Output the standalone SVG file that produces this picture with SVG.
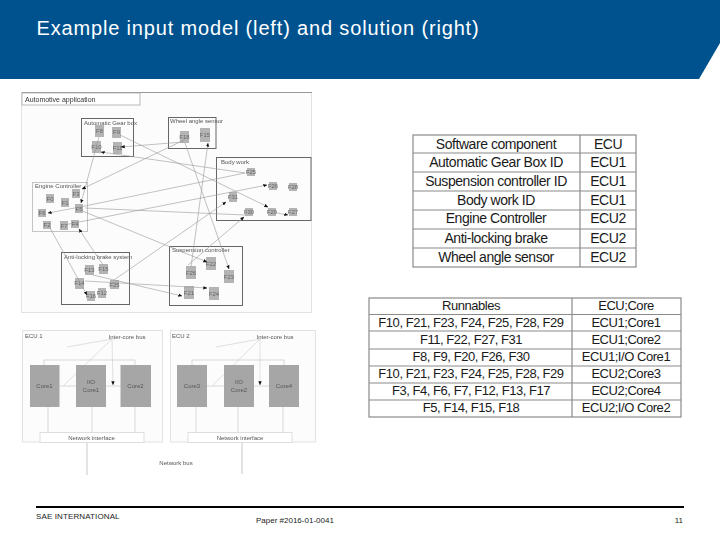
<svg xmlns="http://www.w3.org/2000/svg" width="720" height="540" viewBox="0 0 720 540">
<style>
text{font-family:"Liberation Sans",Arial,sans-serif}
.title{font-size:20px;fill:#fff;letter-spacing:.84px}
.foot{font-size:8px;fill:#222}
.panel{fill:#fcfcfc;stroke:#e2e2e2;stroke-width:1}
.grp{fill:none;stroke:#666;stroke-width:1}
.grp2{fill:none;stroke:#c4c4c4;stroke-width:1}
.glab{font-size:6px;fill:#555}
.box{fill:#b4b4b4}
.nl{font-size:6px;fill:#666;text-anchor:middle}
.c{fill:none;stroke:#999;stroke-width:.6;marker-end:url(#ah)}
.l{fill:none;stroke:#d8d8d8;stroke-width:1}
.core{fill:#a6a6a6}
.cl{font-size:6px;fill:#555;text-anchor:middle}
.net{fill:#fff;stroke:#dedede}
.t{fill:#fff;stroke:#8a8a8a;stroke-width:1.2}
.tl{stroke:#8a8a8a;stroke-width:1.2}
.a{font-size:14px;fill:#1a1a1a;text-anchor:middle;letter-spacing:-.45px}
.b{font-size:13px;fill:#1a1a1a;text-anchor:middle;letter-spacing:-.45px}
</style>
<defs>
<marker id="ah" viewBox="0 0 6 6" refX="5.500" refY="3" markerWidth="4" markerHeight="4" markerUnits="userSpaceOnUse" orient="auto"><path d="M0 .5L6 3L0 5.500z" fill="#111"/></marker>
<filter id="soft" x="0" y="0" width="1" height="1"><feGaussianBlur stdDeviation="0.3"/></filter>
</defs>
<path d="M0 0H720V43L699 79H0z" fill="#00528f"/>
<text class="title" x="36.500" y="35">Example input model (left) and solution (right)</text>

<g id="illustration" filter="url(#soft)">
<rect class="panel" x="21.500" y="92.500" width="290" height="220"/>
<path d="M22 92.500H312" stroke="#999" fill="none"/>
<g id="app-label"><rect x="22" y="93" width="118" height="12" fill="#fff" stroke="#aaa" stroke-width=".8"/><text x="25" y="101.500" font-size="7" fill="#333">Automotive application</text></g>

<g id="group-gearbox"><rect class="grp" x="81.500" y="118.500" width="52" height="38"/><text class="glab" x="84" y="125">Automatic Gear box</text></g>
<g id="group-wheel"><rect class="grp" x="168.500" y="117.500" width="47.500" height="31"/><text class="glab" x="170" y="123">Wheel angle sensor</text></g>
<g id="group-body"><rect class="grp" x="216.500" y="157.500" width="94.500" height="63"/><text class="glab" x="221" y="164">Body work</text></g>
<g id="group-engine"><rect class="grp2" x="32.500" y="182.500" width="55" height="49"/><text class="glab" x="35" y="187.500">Engine Controller</text></g>
<g id="group-abs"><rect class="grp" x="61.500" y="252.500" width="68" height="52"/><text class="glab" x="64" y="259">Anti-locking brake system</text></g>
<g id="group-susp"><rect class="grp" x="169.500" y="246.500" width="73" height="59"/><text class="glab" x="172" y="252">Suspension controller</text></g>

<g id="F8"><rect class="box" x="95" y="125" width="9" height="12"/><text class="nl" x="99.500" y="133">F8</text></g>
<g id="F9"><rect class="box" x="112" y="127" width="9" height="11"/><text class="nl" x="116.500" y="134">F9</text></g>
<g id="F10"><rect class="box" x="92" y="141" width="9" height="12"/><text class="nl" x="96.500" y="149">F10</text></g>
<g id="F11"><rect class="box" x="113" y="142" width="9" height="12"/><text class="nl" x="117.500" y="150">F11</text></g>
<g id="F18"><rect class="box" x="180" y="131" width="9" height="12"/><text class="nl" x="184.500" y="139">F18</text></g>
<g id="F15"><rect class="box" x="200" y="128" width="10" height="14"/><text class="nl" x="205" y="137">F15</text></g>
<g id="F25"><rect class="box" x="247" y="168" width="8" height="8"/><text class="nl" x="251" y="174">F25</text></g>
<g id="F26"><rect class="box" x="269" y="182" width="8" height="8"/><text class="nl" x="273" y="188">F26</text></g>
<g id="F28"><rect class="box" x="289" y="183" width="8" height="8"/><text class="nl" x="293" y="189">F28</text></g>
<g id="F31"><rect class="box" x="229" y="192" width="8" height="10"/><text class="nl" x="233" y="199">F31</text></g>
<g id="F30"><rect class="box" x="245" y="208" width="8" height="8"/><text class="nl" x="249" y="214">F30</text></g>
<g id="F29"><rect class="box" x="268" y="208" width="8" height="8"/><text class="nl" x="272" y="214">F29</text></g>
<g id="F27"><rect class="box" x="289" y="208" width="8" height="8"/><text class="nl" x="293" y="214">F27</text></g>
<g id="F0"><rect class="box" x="46" y="194" width="8" height="9"/><text class="nl" x="50" y="200.500">F0</text></g>
<g id="F1"><rect class="box" x="61" y="198" width="8" height="9"/><text class="nl" x="65" y="204.500">F1</text></g>
<g id="F3"><rect class="box" x="72" y="189" width="8" height="9"/><text class="nl" x="76" y="195.500">F3</text></g>
<g id="F5"><rect class="box" x="75" y="204" width="8" height="9"/><text class="nl" x="79" y="210.500">F5</text></g>
<g id="F6"><rect class="box" x="38" y="209" width="8" height="8"/><text class="nl" x="42" y="215">F6</text></g>
<g id="F2"><rect class="box" x="43" y="221" width="8" height="8"/><text class="nl" x="47" y="227">F2</text></g>
<g id="F7"><rect class="box" x="60" y="221" width="8" height="9"/><text class="nl" x="64" y="227.500">F7</text></g>
<g id="F4"><rect class="box" x="71" y="220" width="8" height="8"/><text class="nl" x="75" y="226">F4</text></g>
<g id="F13"><rect class="box" x="85" y="265" width="9" height="10"/><text class="nl" x="89.500" y="272">F13</text></g>
<g id="F17"><rect class="box" x="99" y="264" width="9" height="10"/><text class="nl" x="103.500" y="271">F15</text></g>
<g id="F14"><rect class="box" x="75" y="278" width="9" height="11"/><text class="nl" x="79.500" y="285">F14</text></g>
<g id="F25b"><rect class="box" x="110" y="280" width="9" height="9"/><text class="nl" x="114.500" y="286.500">F25</text></g>
<g id="F16"><rect class="box" x="87" y="291" width="8" height="10"/><text class="nl" x="91" y="298">F16</text></g>
<g id="F12"><rect class="box" x="98" y="288" width="8" height="10"/><text class="nl" x="102" y="295">F12</text></g>
<g id="F22"><rect class="box" x="206" y="257" width="10" height="13"/><text class="nl" x="211" y="265.500">F22</text></g>
<g id="F20"><rect class="box" x="186" y="266" width="10" height="13"/><text class="nl" x="191" y="274.500">F26</text></g>
<g id="F23"><rect class="box" x="224" y="270" width="10" height="13"/><text class="nl" x="229" y="278.500">F23</text></g>
<g id="F21"><rect class="box" x="184" y="286" width="10" height="13"/><text class="nl" x="189" y="294.500">F21</text></g>
<g id="F24"><rect class="box" x="209" y="287" width="10" height="13"/><text class="nl" x="214" y="295.500">F24</text></g>

<g id="connectors">
<path class="c" d="M99 137L81 203"/>
<path class="c" d="M120 135L268 207"/>
<path class="c" d="M183 142L121 147"/>
<path class="c" d="M245 173L101 152"/>
<path class="c" d="M184 140L82 189"/>
<path class="c" d="M64 225L267 185"/>
<path class="c" d="M80 207L245 173" style="marker-end:none"/>
<path class="c" d="M114 280L226 202"/>
<path class="c" d="M80 210L207 262"/>
<path class="c" d="M80 207L48 213"/>
<path class="c" d="M50 228L87 295"/>
<path class="c" d="M103 265L79 229"/>
<path class="c" d="M85 281L207 288"/>
<path class="c" d="M93 275L182 296"/>
<path class="c" d="M191 267L208 143"/>
<path class="c" d="M185 143L229 269"/>
<path class="c" d="M188 265L244 217"/>
<path class="c" d="M277 213L288 215"/>
<path class="c" d="M85 208L245 215" style="marker-end:none"/>
</g>

<rect class="panel" x="22.500" y="330.500" width="140" height="111.500"/>
<rect class="panel" x="170.500" y="330.500" width="145" height="111.500"/>
<text class="glab" x="25" y="337.500">ECU 1</text>
<text class="glab" x="172" y="337.500">ECU 2</text>

<g id="hw-lines">
<path class="l" d="M44 365V360H135V365M30 386H151M48 407V432M92 407V432M135 407V432"/>
<path class="l" d="M192 365V360H284V365M177 386H299M196 407V432M238 407V432M283 407V432"/>
<path d="M87 442V475M242 442V474" fill="none" stroke="#bbb" stroke-width=".8"/>
<path d="M112 339L67 347M112 339L64 385M112 339L113 385" class="c" style="stroke:#ccc"/>
<path d="M260 339L216 347M260 339L213 385M260 339L260 385" class="c" style="stroke:#ccc"/>
</g>

<g id="core1"><rect class="core" x="30" y="365" width="29.500" height="42"/><text class="cl" x="44.500" y="388">Core1</text></g>
<g id="io1"><rect class="core" x="76" y="365" width="30" height="42"/><text class="cl" x="91" y="384">I/O</text><text class="cl" x="91" y="392">Core1</text></g>
<g id="core2"><rect class="core" x="120.500" y="365" width="30.500" height="42"/><text class="cl" x="135.500" y="388">Core2</text></g>
<g id="core3"><rect class="core" x="177" y="365" width="30" height="42"/><text class="cl" x="192" y="388">Core3</text></g>
<g id="io2"><rect class="core" x="224" y="365" width="30" height="42"/><text class="cl" x="239" y="384">I/O</text><text class="cl" x="239" y="392">Core2</text></g>
<g id="core4"><rect class="core" x="269" y="365" width="30" height="42"/><text class="cl" x="284" y="388">Core4</text></g>
<g id="net1"><rect class="net" x="40" y="432.500" width="104" height="10"/><text class="cl" x="91.500" y="440">Network interface</text></g>
<g id="net2"><rect class="net" x="188" y="432.500" width="104" height="10"/><text class="cl" x="240" y="440">Network interface</text></g>
<text class="cl" x="127" y="339">Inter-core bus</text>
<text class="cl" x="275" y="339">Inter-core bus</text>
<text class="cl" x="176" y="465">Network bus</text>
</g>

<g id="table1">
<rect class="t" x="413" y="135" width="223" height="132"/>
<path class="tl" d="M580 135V267M413 153H636M413 172H636M413 191H636M413 210H636M413 229H636M413 248H636"/>
<text class="a" x="496" y="148.500">Software component</text><text class="a" x="608" y="148.500">ECU</text>
<text class="a" x="496" y="167">Automatic Gear Box ID</text><text class="a" x="608" y="167">ECU1</text>
<text class="a" x="496" y="186">Suspension controller ID</text><text class="a" x="608" y="186">ECU1</text>
<text class="a" x="496" y="204.500">Body work ID</text><text class="a" x="608" y="204.500">ECU1</text>
<text class="a" x="496" y="223">Engine Controller</text><text class="a" x="608" y="223">ECU2</text>
<text class="a" x="496" y="243">Anti-locking brake</text><text class="a" x="608" y="243">ECU2</text>
<text class="a" x="496" y="261.500">Wheel angle sensor</text><text class="a" x="608" y="261.500">ECU2</text>
</g>
<g id="table2">
<rect class="t" x="369" y="298" width="312" height="119"/>
<path class="tl" d="M572 298V417M369 314.500H681M369 331H681M369 349H681M369 366H681M369 383H681M369 400H681"/>
<text class="b" x="471" y="310">Runnables</text><text class="b" x="626" y="310">ECU;Core</text>
<text class="b" x="471" y="327">F10, F21, F23, F24, F25, F28, F29</text><text class="b" x="626" y="327">ECU1;Core1</text>
<text class="b" x="471" y="344">F11, F22, F27, F31</text><text class="b" x="626" y="344">ECU1;Core2</text>
<text class="b" x="471" y="361">F8, F9, F20, F26, F30</text><text class="b" x="626" y="361">ECU1;I/O Core1</text>
<text class="b" x="471" y="378">F10, F21, F23, F24, F25, F28, F29</text><text class="b" x="626" y="378">ECU2;Core3</text>
<text class="b" x="471" y="395">F3, F4, F6, F7, F12, F13, F17</text><text class="b" x="626" y="395">ECU2;Core4</text>
<text class="b" x="471" y="412">F5, F14, F15, F18</text><text class="b" x="626" y="412">ECU2;I/O Core2</text>
</g>

<path d="M36 507H684" stroke="#000" stroke-width="2" fill="none"/>
<text class="foot" x="36" y="519" letter-spacing=".12">SAE INTERNATIONAL</text>
<text class="foot" x="256" y="523">Paper #2016-01-0041</text>
<text class="foot" x="683" y="523" text-anchor="end">11</text>
</svg>
